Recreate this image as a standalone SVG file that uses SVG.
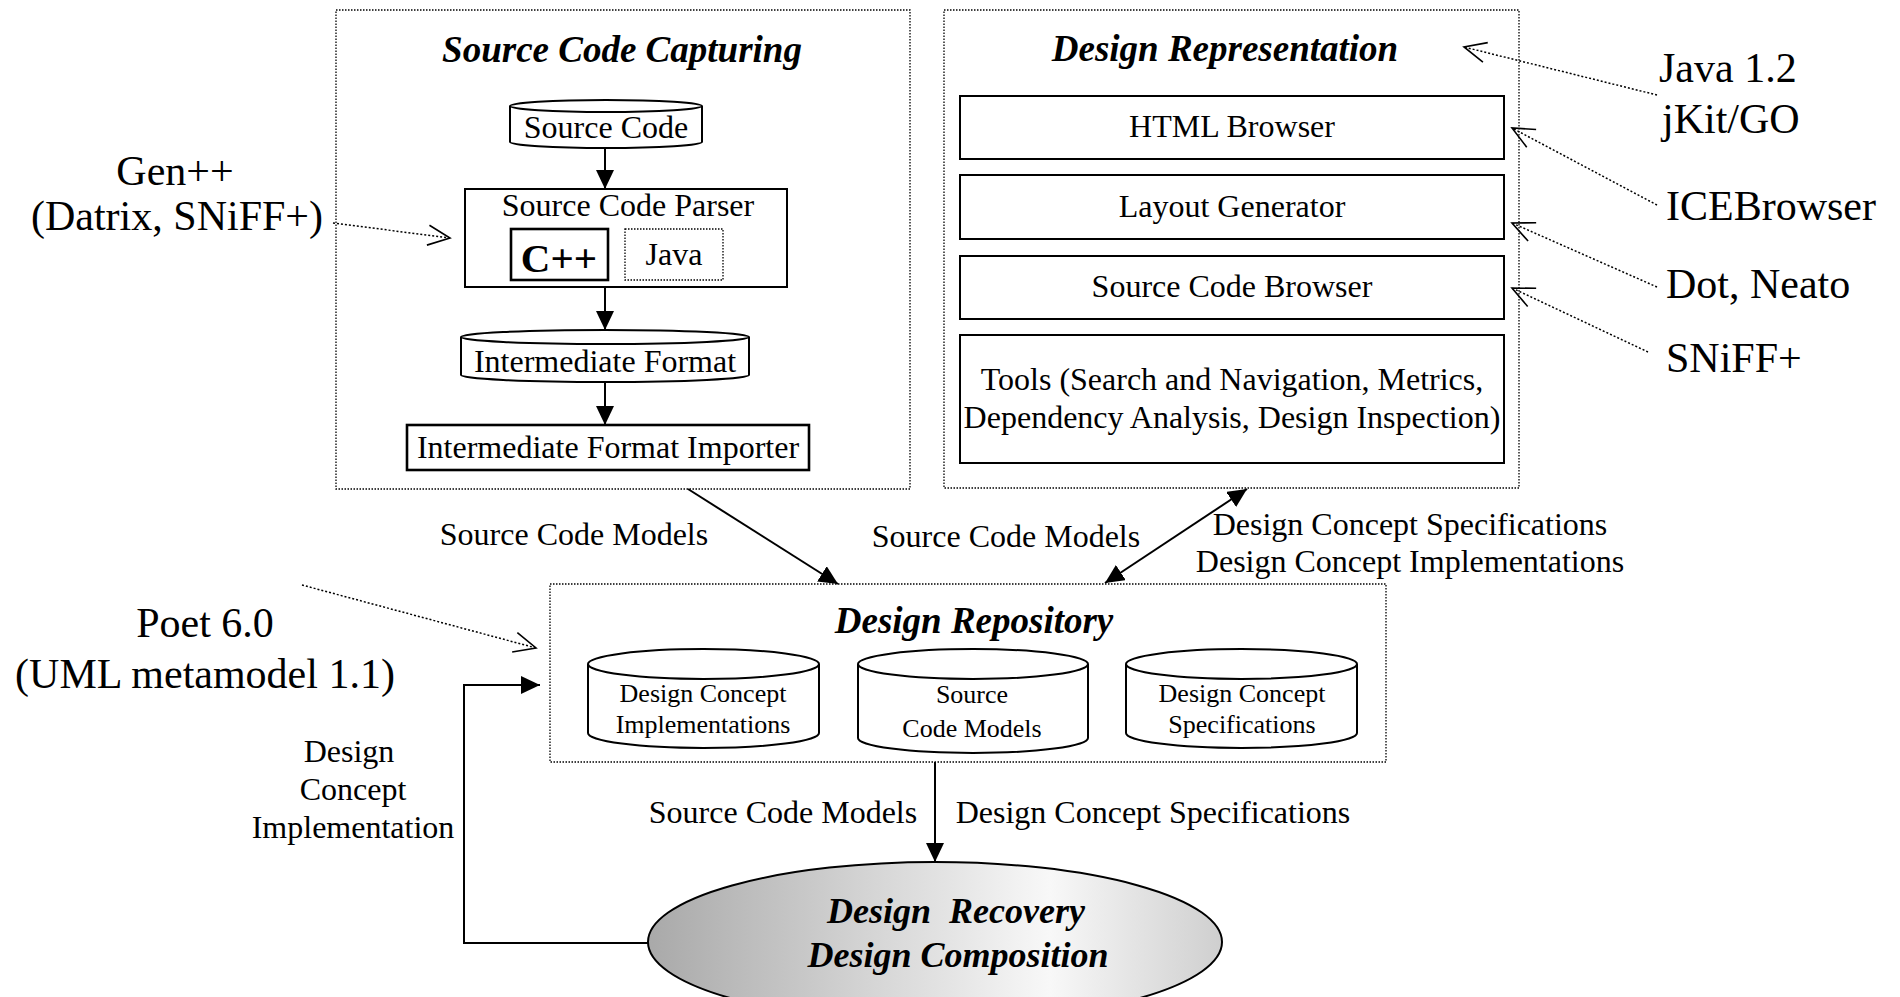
<svg xmlns="http://www.w3.org/2000/svg" width="1900" height="997" viewBox="0 0 1900 997">
<style>
.t{font-family:"Liberation Serif","Times New Roman",serif;fill:#000}
.m{text-anchor:middle}
.s32{font-size:32px}
.s26{font-size:26px}
.s42{font-size:42px}
.ttl{font-size:37px;font-weight:bold;font-style:italic;text-anchor:middle}
.box{fill:#fff;stroke:#000;stroke-width:2}
.thick{fill:#fff;stroke:#000;stroke-width:2.6}
.grp{fill:none;stroke:#000;stroke-width:1.3;stroke-dasharray:1.5 1.5}
.conn{fill:none;stroke:#000;stroke-width:2}
.dconn{fill:none;stroke:#000;stroke-width:1.5;stroke-dasharray:2 2}
</style>
<defs>
<marker id="fa" markerUnits="userSpaceOnUse" markerWidth="20" markerHeight="20" refX="19" refY="9" orient="auto-start-reverse">
<path d="M0,0 L19,9 L0,18 z" fill="#000"/>
</marker>
<marker id="va" markerUnits="userSpaceOnUse" markerWidth="26" markerHeight="24" refX="23" refY="11" orient="auto">
<path d="M1,1 L23,11 L1,21" fill="none" stroke="#000" stroke-width="1.6"/>
</marker>
<linearGradient id="eg" x1="0" y1="0" x2="1" y2="0">
<stop offset="0" stop-color="#a9a9a9"/>
<stop offset="0.7" stop-color="#f8f8f8"/>
<stop offset="1" stop-color="#cfcfcf"/>
</linearGradient>
</defs>
<rect width="1900" height="997" fill="#fff"/>

<g id="source-code-capturing">
<rect class="grp" x="336" y="10" width="574" height="479"/>
<text class="t ttl" x="622" y="62">Source Code Capturing</text>
</g>
<g id="source-code">
<path class="box" d="M510,106 L510,142 A96,6 0 0 0 702,142 L702,106"/>
<ellipse class="box" cx="606" cy="106" rx="96" ry="6"/>
<text class="t s32 m" x="606" y="138">Source Code</text>
</g>
<g id="source-code-parser">
<rect class="box" x="465" y="189" width="322" height="98"/>
<text class="t s32 m" x="628" y="216">Source Code Parser</text>
</g>
<g id="cpp">
<rect class="thick" x="511" y="229" width="97" height="51"/>
<text class="t m" x="559" y="272" style="font-size:41px;font-weight:bold">C++</text>
</g>
<g id="java">
<rect class="grp" x="625" y="229" width="98" height="51"/>
<text class="t s32 m" x="674" y="265">Java</text>
</g>
<g id="intermediate-format">
<path class="box" d="M461,337 L461,375 A144,7 0 0 0 749,375 L749,337"/>
<ellipse class="box" cx="605" cy="337" rx="144" ry="7"/>
<text class="t s32 m" x="605" y="372">Intermediate Format</text>
</g>
<g id="intermediate-format-importer">
<rect class="thick" x="407" y="425" width="402" height="45"/>
<text class="t s32 m" x="608" y="458">Intermediate Format Importer</text>
</g>

<g id="design-representation">
<rect class="grp" x="944" y="10" width="575" height="478"/>
<text class="t ttl" x="1225" y="61">Design Representation</text>
</g>
<g id="html-browser">
<rect class="box" x="960" y="96" width="544" height="63"/>
<text class="t s32 m" x="1232" y="137">HTML Browser</text>
</g>
<g id="layout-generator">
<rect class="box" x="960" y="175" width="544" height="64"/>
<text class="t s32 m" x="1232" y="217">Layout Generator</text>
</g>
<g id="source-code-browser">
<rect class="box" x="960" y="256" width="544" height="63"/>
<text class="t s32 m" x="1232" y="297">Source Code Browser</text>
</g>
<g id="tools">
<rect class="box" x="960" y="335" width="544" height="128"/>
<text class="t s32 m" x="1232" y="390">Tools (Search and Navigation, Metrics,</text>
<text class="t s32 m" x="1232" y="428">Dependency Analysis, Design Inspection)</text>
</g>

<g id="design-repository">
<rect class="grp" x="550" y="584" width="836" height="178"/>
<text class="t ttl" x="974" y="633">Design Repository</text>
</g>
<g id="repo-impl">
<path class="box" d="M588,664 L588,733 A115.5,15 0 0 0 819,733 L819,664"/>
<ellipse class="box" cx="703.5" cy="664" rx="115.5" ry="15"/>
<text class="t s26 m" x="703" y="702">Design Concept</text>
<text class="t s26 m" x="703" y="733">Implementations</text>
</g>
<g id="repo-models">
<path class="box" d="M858,664 L858,738 A115,15 0 0 0 1088,738 L1088,664"/>
<ellipse class="box" cx="973" cy="664" rx="115" ry="15"/>
<text class="t s26 m" x="972" y="703">Source</text>
<text class="t s26 m" x="972" y="737">Code Models</text>
</g>
<g id="repo-spec">
<path class="box" d="M1126,664 L1126,733 A115.5,15 0 0 0 1357,733 L1357,664"/>
<ellipse class="box" cx="1241.5" cy="664" rx="115.5" ry="15"/>
<text class="t s26 m" x="1242" y="702">Design Concept</text>
<text class="t s26 m" x="1242" y="733">Specifications</text>
</g>

<g id="design-recovery">
<ellipse cx="935" cy="942" rx="287" ry="80" fill="url(#eg)" stroke="#000" stroke-width="2"/>
<text class="t ttl" x="956" y="923" style="font-size:36px" xml:space="preserve">Design  Recovery</text>
<text class="t ttl" x="958" y="967" style="font-size:36px">Design Composition</text>
</g>

<g id="gen-label">
<text class="t s42 m" x="175" y="185">Gen++</text>
<text class="t s42 m" x="177" y="230">(Datrix, SNiFF+)</text>
</g>
<g id="poet-label">
<text class="t s42 m" x="205" y="637">Poet 6.0</text>
<text class="t s42 m" x="205" y="688">(UML metamodel 1.1)</text>
</g>
<g id="java-label">
<text class="t s42" x="1659" y="82">Java 1.2</text>
<text class="t s42" x="1662" y="133">jKit/GO</text>
</g>
<g id="icebrowser-label"><text class="t s42" x="1666" y="220">ICEBrowser</text></g>
<g id="dot-label"><text class="t s42" x="1666" y="298">Dot, Neato</text></g>
<g id="sniff-label"><text class="t s42" x="1666" y="372">SNiFF+</text></g>

<g id="connectors">
<line class="conn" x1="605" y1="148" x2="605" y2="189" marker-end="url(#fa)"/>
<line class="conn" x1="605" y1="287" x2="605" y2="330" marker-end="url(#fa)"/>
<line class="conn" x1="605" y1="382" x2="605" y2="425" marker-end="url(#fa)"/>
<line class="conn" x1="688" y1="489" x2="838" y2="584" marker-end="url(#fa)"/>
<line class="conn" x1="1105" y1="583" x2="1247" y2="489" marker-start="url(#fa)" marker-end="url(#fa)"/>
<line class="conn" x1="935" y1="762" x2="935" y2="862" marker-end="url(#fa)"/>
<path class="conn" d="M648,943 L464,943 L464,685 L540,685" stroke-width="2.6" marker-end="url(#fa)"/>
<line class="dconn" x1="333" y1="223" x2="450" y2="238" marker-end="url(#va)"/>
<line class="dconn" x1="302" y1="585" x2="536" y2="648" marker-end="url(#va)"/>
<line class="dconn" x1="1657" y1="95" x2="1464" y2="47" marker-end="url(#va)"/>
<line class="dconn" x1="1657" y1="205" x2="1512" y2="128" marker-end="url(#va)"/>
<line class="dconn" x1="1657" y1="287" x2="1512" y2="223" marker-end="url(#va)"/>
<line class="dconn" x1="1648" y1="352" x2="1512" y2="288" marker-end="url(#va)"/>
<text class="t s32 m" x="574" y="545">Source Code Models</text>
<text class="t s32 m" x="1006" y="547">Source Code Models</text>
<text class="t s32 m" x="1410" y="535">Design Concept Specifications</text>
<text class="t s32 m" x="1410" y="572">Design Concept Implementations</text>
<text class="t s32 m" x="783" y="823">Source Code Models</text>
<text class="t s32 m" x="1153" y="823">Design Concept Specifications</text>
<text class="t s32 m" x="349" y="762">Design</text>
<text class="t s32 m" x="353" y="800">Concept</text>
<text class="t s32 m" x="353" y="838">Implementation</text>
</g>
</svg>
